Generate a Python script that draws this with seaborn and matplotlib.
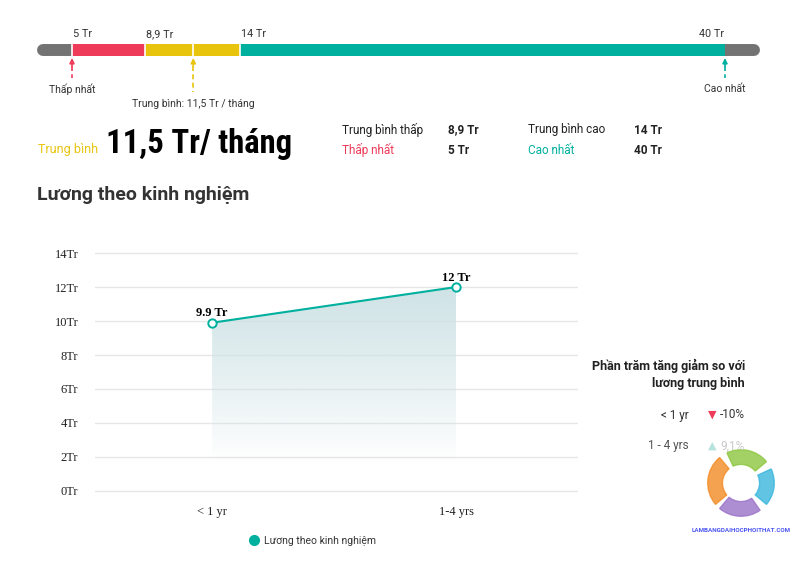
import numpy as np
import pandas as pd
import matplotlib
matplotlib.use("Agg")
import matplotlib.pyplot as plt
import seaborn as sns
from matplotlib.lines import Line2D
from matplotlib.patches import Wedge

# ---- dữ liệu ----
range_values = [5, 8.9, 14, 40]          # thấp nhất, tb thấp, tb cao, cao nhất
range_labels = ["5 Tr", "8,9 Tr", "14 Tr", "40 Tr"]
avg_salary = 11.5

exp_levels = ["< 1 yr", "1-4 yrs"]
exp_salary = [9.9, 12]
exp_labels = ["9.9 Tr", "12 Tr"]

pct_levels = ["< 1 yr", "1 - 4 yrs"]
pct_values = ["-10%", "9,1%"]

y_ticks = [0, 2, 4, 6, 8, 10, 12, 14]

RED = "#ef3b5a"
YELLOW = "#e9c40c"
TEAL = "#00b09f"
GRAY = "#737373"
DARK = "#222222"

sns.set_theme(style="white")
plt.rcParams["font.family"] = ["Roboto", "DejaVu Sans"]

W, H = 800, 561
fig = plt.figure(figsize=(W / 100, H / 100), dpi=100)


def fx(x):
    return x / W


def fy(y):
    return 1 - y / H


# ---- thanh dải lương ----
axb = fig.add_axes([fx(37), fy(112), 723 / W, 92 / H])
x0, x1 = 3.124, 41.876
axb.set_xlim(x0, x1)
axb.set_ylim(112, 20)
axb.axis("off")
r = 6 / 18.657
axb.plot([x0 + r, x1 - r], [50, 50], color=GRAY, lw=8.6, solid_capstyle="round", zorder=1)
seg_colors = [RED, YELLOW, TEAL]
for i in range(3):
    axb.barh(50, range_values[i + 1] - range_values[i], left=range_values[i],
             height=12, color=seg_colors[i], linewidth=0, zorder=3)
axb.vlines([range_values[0], range_values[1], avg_salary, range_values[2]],
           44, 56, color="white", lw=1.2, zorder=4)
for i, (v, lab) in enumerate(zip(range_values, range_labels)):
    if i == 3:
        axb.text(v - 0.05, 34, lab, ha="right", va="center", fontsize=7.8, color="#333333")
    else:
        axb.text(v + 0.05, 34, lab, ha="left", va="center", fontsize=7.8, color="#333333")

markers = [(range_values[0], RED, 82, "Thấp nhất", 89),
           (avg_salary, YELLOW, 96, "Trung bình: 11,5 Tr / tháng", 104),
           (range_values[3], TEAL, 82, "Cao nhất", 89)]
for v, c, yend, lab, ylab in markers:
    axb.annotate("", xy=(v, 58), xytext=(v, 66),
                 arrowprops=dict(arrowstyle="-|>", color=c, lw=1.2,
                                 mutation_scale=7, shrinkA=0, shrinkB=0))
    axb.plot([v, v], [66, yend - 4], color=c, lw=1.2, ls=(0, (3, 2)))
    axb.text(v, ylab, lab, ha="center", va="center", fontsize=7.5, color="#333333")

# ---- khối số liệu ----
fig.text(fx(38), fy(150), "Trung bình", color=YELLOW, fontsize=9, va="center")
fig.text(fx(106), fy(144), "11,5 Tr/ tháng", fontsize=23.5, fontweight="bold",
         color="black", va="center",
         family=["Liberation Sans Narrow", "Roboto Condensed", "Roboto"])
stats = [(342, 130, "Trung bình thấp", DARK, 448, range_labels[1]),
         (342, 150, "Thấp nhất", RED, 448, range_labels[0]),
         (528, 130, "Trung bình cao", DARK, 634, range_labels[2]),
         (528, 150, "Cao nhất", TEAL, 634, range_labels[3])]
for x, y, lab, c, xv, val in stats:
    fig.text(fx(x), fy(y), lab, color=c, fontsize=8.5, va="center")
    fig.text(fx(xv), fy(y), val, color=DARK, fontsize=8.5, va="center", fontweight="bold")

fig.text(fx(37), fy(195), "Lương theo kinh nghiệm", fontsize=14, fontweight="bold",
         color="#333333", va="center")

# ---- biểu đồ đường ----
ax = fig.add_axes([fx(95), fy(494), 483 / W, 244 / H])
df = pd.DataFrame({"level": exp_levels, "salary": exp_salary})
sns.lineplot(data=df, x="level", y="salary", ax=ax, color=TEAL, lw=1.5,
             marker="o", markersize=6, markerfacecolor="white",
             markeredgecolor=TEAL, markeredgewidth=1.4, zorder=5)

# vùng tô chuyển màu
xs = np.arange(len(exp_salary))
poly = ax.fill_between(xs, exp_salary, 0, color="none", lw=0)
ny = 200
alpha = np.clip((np.linspace(max(exp_salary), 0, ny) - 1.8) / (max(exp_salary) - 1.8), 0, 1) ** 0.9
grad = np.zeros((ny, 2, 4))
grad[..., 0] = 0.80
grad[..., 1] = 0.885
grad[..., 2] = 0.895
grad[..., 3] = alpha[:, None] * 0.95
im = ax.imshow(grad, extent=[xs[0], xs[-1], 0, max(exp_salary)], aspect="auto",
               origin="upper", zorder=2, interpolation="bilinear")
im.set_clip_path(poly.get_paths()[0], transform=ax.transData)
ax.set_xlim(-0.48, 1.5)
ax.set_ylim(-0.18, 14.18)

for x, y, lab in zip(xs, exp_salary, exp_labels):
    ax.text(x, y + 0.55, lab, ha="center", va="center", fontsize=9, fontweight="bold",
            family="Liberation Serif", color="black", zorder=6)

ax.set_yticks(y_ticks)
ax.set_yticklabels([f"{v}Tr" for v in y_ticks])
ax.yaxis.grid(True, color="#e6e6e6", lw=1)
ax.xaxis.grid(False)
ax.set_axisbelow(True)
for s in ax.spines.values():
    s.set_visible(False)
ax.tick_params(length=0, labelsize=9, colors="#222222")
ax.tick_params(axis="y", pad=12)
ax.tick_params(axis="x", pad=9)
for t in ax.get_xticklabels() + ax.get_yticklabels():
    t.set_family("Liberation Serif")
ax.set_xlabel("")
ax.set_ylabel("")

handle = Line2D([], [], marker="o", color=TEAL, ls="", markersize=7)
fig.legend([handle], ["Lương theo kinh nghiệm"], loc="center",
           bbox_to_anchor=(fx(310), fy(541)), frameon=False,
           prop={"size": 7.5, "family": "Roboto"}, handletextpad=0.0,
           labelcolor="#333333")

# ---- phần trăm so với trung bình ----
fig.text(fx(745), fy(366), "Phần trăm tăng giảm so với", ha="right", va="center",
         fontsize=9, fontweight="bold", color=DARK)
fig.text(fx(745), fy(384), "lương trung bình", ha="right", va="center",
         fontsize=9, fontweight="bold", color=DARK)
row_y = [415, 446]
tri = ["▼", "▲"]
tri_col = [RED, "#b7e3dd"]
txt_col = ["#333333", "#c8c8c8"]
lvl_col = ["#333333", "#555555"]
for y, lvl, val, t, tc, vc, lc in zip(row_y, pct_levels, pct_values, tri, tri_col, txt_col, lvl_col):
    fig.text(fx(689), fy(y), lvl, ha="right", va="center", fontsize=8.5, color=lc)
    fig.text(fx(712), fy(y), t, ha="center", va="center", fontsize=8, color=tc,
             family="DejaVu Sans")
    fig.text(fx(720), fy(y), val, ha="left", va="center", fontsize=8.5, color=vc)

# ---- watermark ----
axl = fig.add_axes([fx(706), fy(518), 70 / W, 70 / H])
axl.set_xlim(-1, 1)
axl.set_ylim(-1, 1)
axl.set_aspect("equal")
axl.axis("off")
for a0, a1, c in [(130, 220, "#f38b24"), (40, 115, "#8cc63f"),
                  (-40, 25, "#39b6dd"), (230, 305, "#9a72c8")]:
    axl.add_patch(Wedge((0, 0), 0.95, a0, a1, width=0.42, color=c, alpha=0.8))
fig.text(fx(741), fy(530), "LAMBANGDAIHOCPHOITHAT.COM", ha="center", va="center",
         fontsize=4.5, fontweight="bold", color="#4a55f0")

fig.savefig("out.png", dpi=100)
